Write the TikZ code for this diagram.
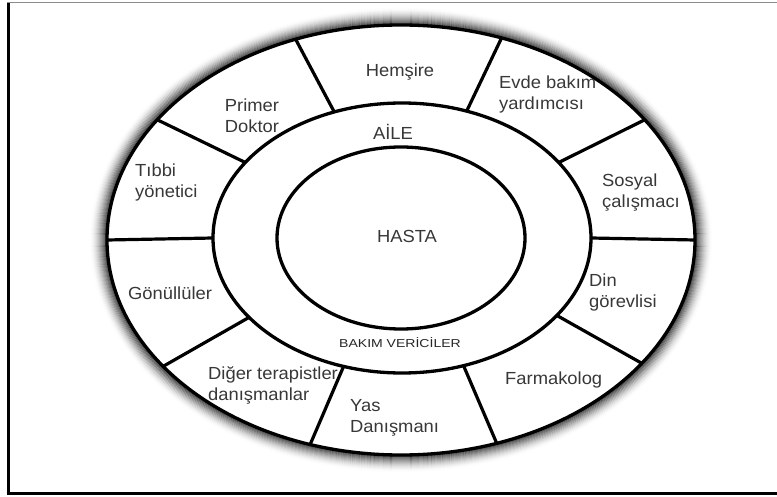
\documentclass[tikz,border=0pt]{standalone}
\usepackage{fontspec}
\setmainfont[FakeStretch=1.05]{Liberation Sans}
\newfontfamily\widefont[FakeStretch=1.22]{Liberation Sans}
\usetikzlibrary{calc}
\begin{document}
\begin{tikzpicture}[x=1pt,y=-1pt,
  ring/.style={line width=3.3pt,draw=black},
  spoke/.style={line width=3.2pt,draw=black},
  lbl/.style={font=\fontsize{17.5}{21}\selectfont,text=black!78,inner sep=0pt,align=left},
  clbl/.style={lbl,align=center},
  framew/.style={line width=3pt,draw=black},
  framet/.style={line width=1pt,draw=black!45}]
\useasboundingbox (0,0) rectangle (777,497);
% frame
\draw[framet] (7,3) -- (777,3);
\draw[framew] (8,3) -- (8,493) -- (777,493);
% centres
\coordinate (oc) at (401,240);
\coordinate (mc) at (402,238);
\coordinate (ic) at (401,238);
% shadow
\foreach \r in {1,...,17}{
  \pgfmathsetmacro{\op}{0.7*(1-\r/18)^2}
  \draw[line width=1.3pt,draw=black,draw opacity=\op]
    (oc) ellipse [x radius={(294+\r)*1pt}, y radius={(215+\r)*1pt}];
}
% ellipses
\draw[ring,fill=white] (oc) ellipse [x radius=294pt, y radius=215pt];
\draw[ring] (mc) ellipse [x radius=189pt, y radius=135pt];
\draw[ring] (ic) ellipse [x radius=124pt, y radius=91pt];
% spokes
\foreach \a [count=\i] in {111,70,34,0,-35,-71,-108,-144,180,146}{
  \coordinate (o\i) at ($(oc)+(\a:294pt and 215pt)$);
  \coordinate (m\i) at ($(mc)+(\a:189pt and 135pt)$);
  \draw[spoke] (o\i) -- (m\i);
}
% labels
\node[clbl] (hemsire) at (400,72) {Hemşire};
\node[clbl] (primer) at (252,116) {Primer\\Doktor};
\node[lbl,anchor=west] (evde) at (499,94.5) {Evde bakım\\yardımcısı};
\node[lbl,anchor=west] (sosyal) at (602,193) {Sosyal\\çalışmacı};
\node[lbl,anchor=west] (din) at (589,292) {Din\\görevlisi};
\node[lbl,anchor=west] (farma) at (505,380) {Farmakolog};
\node[lbl,anchor=west] (yas) at (350,418) {Yas\\Danışmanı};
\node[lbl,anchor=west] (diger) at (208,385.5) {Diğer terapistler\\danışmanlar};
\node[lbl,anchor=west] (gonullu) at (128,293) {Gönüllüler};
\node[lbl,anchor=west] (tibbi) at (135,182.5) {Tıbbi\\yönetici};
\node[clbl] (aile) at (393,132) {AİLE};
\node[clbl] (hasta) at (407,236) {HASTA};
\node[clbl,font=\widefont\fontsize{11.5}{13}\selectfont,text=black!85] (bakim) at (400,343) {BAKIM VERİCİLER};
\end{tikzpicture}
\end{document}
